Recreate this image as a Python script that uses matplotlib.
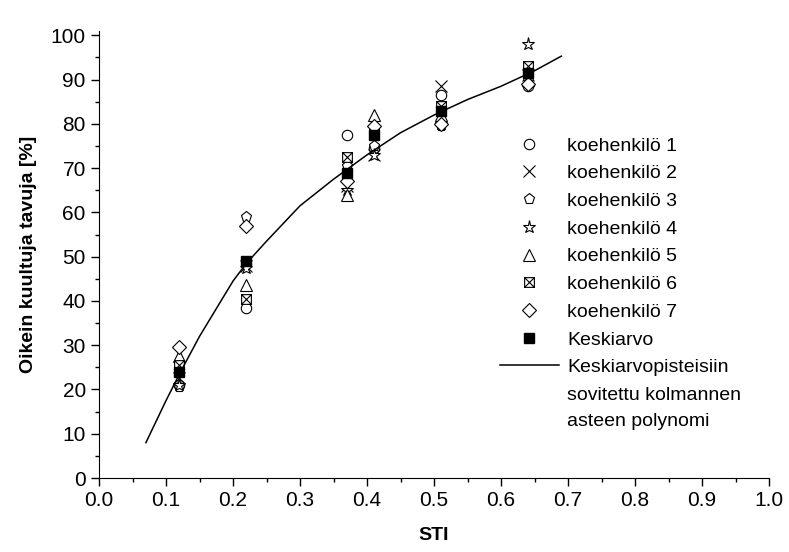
import matplotlib
matplotlib.use("Agg")
import matplotlib.pyplot as plt
from matplotlib.path import Path
from matplotlib.ticker import MultipleLocator

plt.rcParams['font.family'] = ['Liberation Sans', 'DejaVu Sans']

# --- data ---
sti = [0.12, 0.22, 0.37, 0.41, 0.51, 0.64]

kh1 = [21.0, 38.5, 77.5, 74.5, 86.5, 88.5]
kh2 = [22.5, 48.0, 66.0, 73.0, 88.5, 91.0]
kh3 = [20.5, 59.0, 70.5, 75.0, 79.5, 90.0]
kh4 = [21.0, 47.5, 65.0, 73.0, 80.0, 98.0]
kh5 = [27.5, 43.5, 64.0, 82.0, 82.0, 90.0]
kh6 = [25.5, 40.5, 72.5, 78.0, 84.0, 93.0]
kh7 = [29.5, 57.0, 67.0, 79.5, 80.0, 89.0]
keskiarvo = [24.0, 49.0, 69.0, 77.5, 83.0, 91.5]

# fitted 3rd degree polynomial
fit_x = [0.07, 0.10, 0.12, 0.15, 0.20, 0.22, 0.25, 0.30, 0.35, 0.40,
         0.45, 0.50, 0.55, 0.60, 0.65, 0.69]
fit_y = [8.0, 17.5, 23.5, 32.0, 44.5, 48.5, 53.5, 61.5, 67.5, 73.0,
         78.0, 82.0, 85.5, 88.5, 92.0, 95.3]

subjects = [kh1, kh2, kh3, kh4, kh5, kh6, kh7]
labels = ["koehenkilö 1", "koehenkilö 2", "koehenkilö 3", "koehenkilö 4",
          "koehenkilö 5", "koehenkilö 6", "koehenkilö 7"]

# square with a cross inside (koehenkilö 6)
boxx = Path([(-1, -1), (1, -1), (1, 1), (-1, 1), (-1, -1),
             (-1, -1), (1, 1), (-1, 1), (1, -1)],
            [Path.MOVETO, Path.LINETO, Path.LINETO, Path.LINETO, Path.CLOSEPOLY,
             Path.MOVETO, Path.LINETO, Path.MOVETO, Path.LINETO])
markers = ['o', 'x', 'p', '*', '^', boxx, 'D']
sizes = [7.5, 9, 8, 9.5, 8.5, 7, 7]

fig = plt.figure(figsize=(7.89, 5.52), dpi=100)
ax = fig.add_axes([0.1255, 0.134, 0.8492, 0.81])

for vals, lab, m, s in zip(subjects, labels, markers, sizes):
    ax.plot(sti, vals, linestyle='none', marker=m, markersize=s,
            markerfacecolor='white', markeredgecolor='black',
            markeredgewidth=0.8, color='black', label=lab)

ax.plot(sti, keskiarvo, linestyle='none', marker='s', markersize=7,
        color='black', label="Keskiarvo")
ax.plot(fit_x, fit_y, color='black', linewidth=1.1, label="Keskiarvopisteisiin")

ax.set_xlim(0, 1.0)
ax.set_ylim(0, 101)
ax.xaxis.set_major_locator(MultipleLocator(0.1))
ax.xaxis.set_minor_locator(MultipleLocator(0.05))
ax.yaxis.set_major_locator(MultipleLocator(10))
ax.yaxis.set_minor_locator(MultipleLocator(5))
ax.xaxis.set_major_formatter(plt.FormatStrFormatter('%.1f'))
ax.tick_params(which='major', direction='out', length=6, width=1, labelsize=15)
ax.tick_params(which='minor', direction='out', length=3, width=1)
ax.spines['top'].set_visible(False)
ax.spines['right'].set_visible(False)

ax.set_xlabel("STI", fontsize=14, fontweight='bold', labelpad=12)
ax.set_ylabel("Oikein kuultuja tavuja [%]", fontsize=14, fontweight='bold', labelpad=10)

leg = ax.legend(loc='upper left', bbox_to_anchor=(0.634, 0.752),
                bbox_transform=fig.transFigure, frameon=False, fontsize=14,
                handlelength=3.0, handletextpad=0.45, labelspacing=0.52,
                borderaxespad=0, borderpad=0)

# continuation lines of the last legend entry
fig.canvas.draw()
last = leg.get_texts()[-1]
bb = last.get_window_extent().transformed(fig.transFigure.inverted())
fig.text(bb.x0, bb.y0 - 0.02, "sovitettu kolmannen\nasteen polynomi",
         fontsize=14, va='top', ha='left', linespacing=1.65)

plt.savefig("out.png", dpi=100)
